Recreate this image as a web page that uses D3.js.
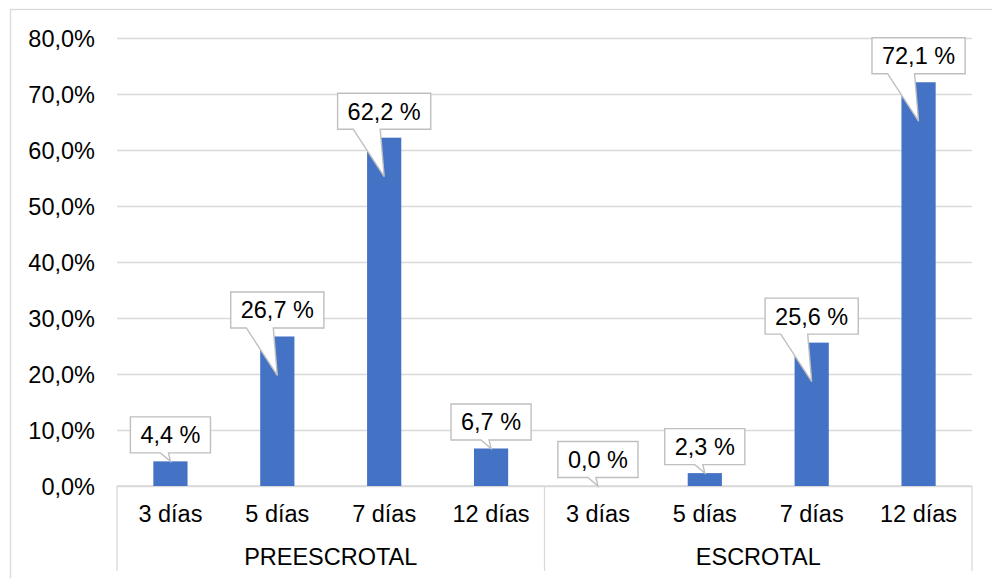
<!DOCTYPE html>
<html>
<head>
<meta charset="utf-8">
<script src="https://cdn.jsdelivr.net/npm/d3@7"></script>
<style>
  html, body { margin: 0; padding: 0; background: #fff; }
  svg { display: block; font-family: "Liberation Sans", Arial, sans-serif; }
</style>
</head>
<body>
<svg id="chart" width="992" height="578"></svg>
<script>
// Percentage of cases by day, in two groups
const groups = ["PREESCROTAL", "ESCROTAL"];
const days = ["3 días", "5 días", "7 días", "12 días"];
const preescrotal = [4.4, 26.7, 62.2, 6.7];
const escrotal = [0.0, 2.3, 25.6, 72.1];
const yTicks = [0, 10, 20, 30, 40, 50, 60, 70, 80];

const seriesByGroup = [preescrotal, escrotal];
const rows = [];
groups.forEach((g, gi) => {
  days.forEach((d, di) => {
    rows.push({ key: g + "|" + d, group: g, day: d, value: seriesByGroup[gi][di] });
  });
});

const svg = d3.select("#chart");
const plotLeft = 117, plotRight = 972, plotTop = 38, plotBottom = 486;
const fontSize = 23.5;
const gridColor = "#d9d9d9";
const barColor = "#4472C4";

const fmt = v => v.toFixed(1).replace(".", ",");

// Outer chart frame
svg.append("rect")
  .attr("x", 10.5).attr("y", 9.5)
  .attr("width", 1000).attr("height", 600)
  .attr("fill", "none").attr("stroke", gridColor).attr("stroke-width", 1.3);

const x = d3.scaleBand().domain(rows.map(r => r.key)).range([plotLeft, plotRight]).padding(0);
const xGroup = d3.scaleBand().domain(groups).range([plotLeft, plotRight]).padding(0);
const y = d3.scaleLinear().domain([0, 80]).range([plotBottom, plotTop]);

// Horizontal gridlines and value axis labels
const yAxis = d3.axisLeft(y).tickValues(yTicks).tickSize(-(plotRight - plotLeft)).tickFormat(v => fmt(v) + "%");
const gy = svg.append("g").attr("transform", `translate(${plotLeft},0)`).call(yAxis);
gy.select(".domain").remove();
gy.selectAll(".tick line").attr("stroke", gridColor).attr("stroke-width", 1.3);
gy.selectAll(".tick text")
  .attr("x", -22).attr("dy", "0.34em")
  .attr("fill", "#000").attr("font-size", fontSize)
  .attr("font-family", "Liberation Sans, Arial, sans-serif");

// Category axis: baseline, separators, day labels, group labels
svg.append("line")
  .attr("x1", plotLeft).attr("x2", plotRight).attr("y1", plotBottom).attr("y2", plotBottom)
  .attr("stroke", gridColor).attr("stroke-width", 1.3);

const sepX = [plotLeft].concat(groups.map(g => xGroup(g) + xGroup.bandwidth()));
svg.selectAll("line.sep").data(sepX).enter().append("line")
  .attr("class", "sep")
  .attr("x1", d => d).attr("x2", d => d)
  .attr("y1", plotBottom).attr("y2", 571)
  .attr("stroke", gridColor).attr("stroke-width", 1.3);

svg.selectAll("text.day").data(rows).enter().append("text")
  .attr("class", "day")
  .attr("x", d => x(d.key) + x.bandwidth() / 2)
  .attr("y", 522)
  .attr("text-anchor", "middle")
  .attr("font-size", fontSize).attr("fill", "#000")
  .text(d => d.day);

svg.selectAll("text.grp").data(groups).enter().append("text")
  .attr("class", "grp")
  .attr("x", d => xGroup(d) + xGroup.bandwidth() / 2)
  .attr("y", 565)
  .attr("text-anchor", "middle")
  .attr("font-size", fontSize).attr("fill", "#000")
  .text(d => d);

// Bars
const barW = x.bandwidth() * 0.32;
svg.selectAll("rect.bar").data(rows).enter().append("rect")
  .attr("class", "bar")
  .attr("x", d => x(d.key) + (x.bandwidth() - barW) / 2)
  .attr("y", d => y(d.value))
  .attr("width", barW)
  .attr("height", d => plotBottom - y(d.value))
  .attr("fill", barColor);

// Callout labels with pointers
const boxH = 36, gap = 8.5;
const callouts = svg.append("g");
rows.forEach(d => {
  const cx = x(d.key) + x.bandwidth() / 2;
  const barTop = y(d.value);
  const barH = plotBottom - barTop;
  const label = fmt(d.value) + " %";
  const g = callouts.append("g");
  const t = g.append("text")
    .attr("x", cx).attr("y", barTop - gap - 9.5)
    .attr("text-anchor", "middle")
    .attr("font-size", fontSize).attr("fill", "#000")
    .text(label);
  const w = t.node().getComputedTextLength() + 20;
  const bx = cx - w / 2, by = barTop - gap - boxH, bb = barTop - gap;
  const tall = barH > 100;
  const tipY = tall ? barTop + 39 : barTop;
  const b1 = tall ? cx - 31 : cx - 10;
  const b2 = tall ? cx - 4 : cx - 2;
  const path = [
    [bx, by], [bx + w, by], [bx + w, bb], [b2, bb], [cx, tipY], [b1, bb], [bx, bb]
  ];
  g.insert("path", "text")
    .attr("d", "M" + path.map(p => p.join(",")).join("L") + "Z")
    .attr("fill", "#fff").attr("stroke", "#bfbfbf").attr("stroke-width", 1.4)
    .attr("stroke-linejoin", "miter");
});
</script>
</body>
</html>
